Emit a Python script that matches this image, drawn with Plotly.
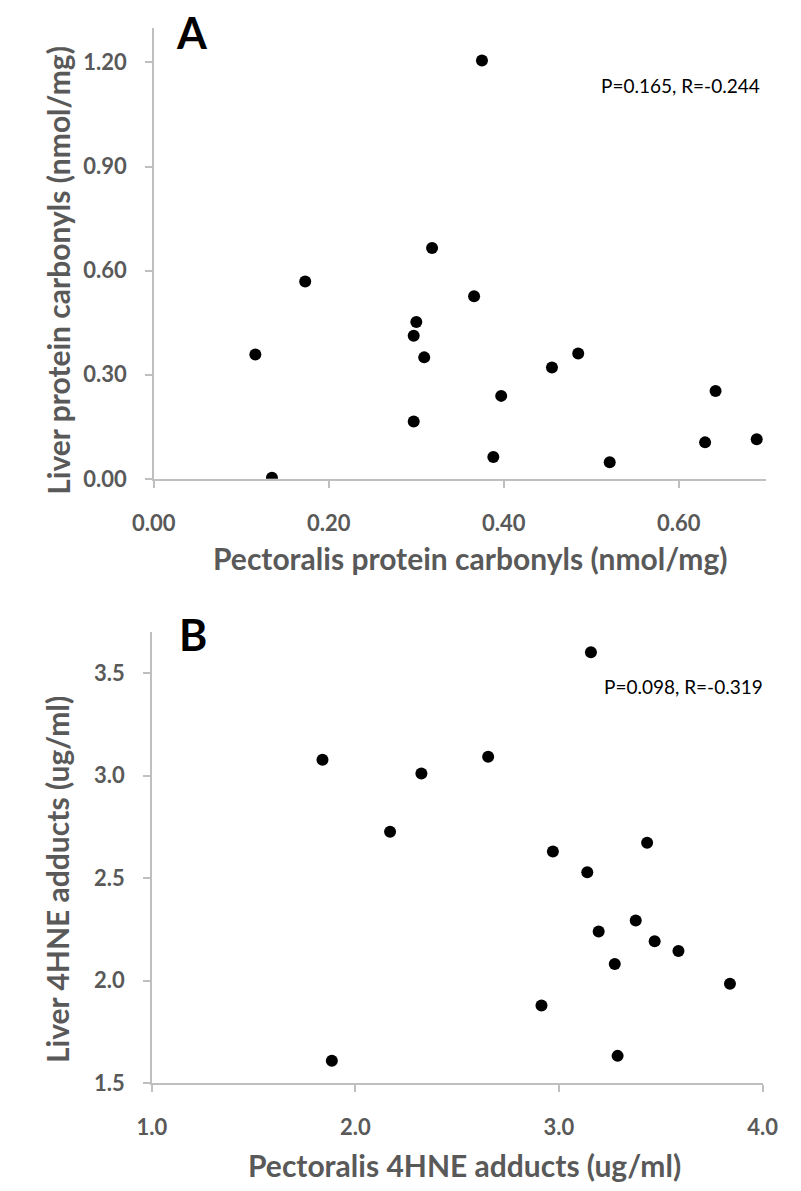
import plotly.graph_objects as go

W, H = 801, 1191

# Panel A data: pectoralis vs liver protein carbonyls (nmol/mg)
a_pect = [0.173, 0.375, 0.318, 0.366, 0.116, 0.135, 0.300, 0.297, 0.309,
          0.455, 0.485, 0.397, 0.297, 0.388, 0.521, 0.642, 0.630, 0.689]
a_liver = [0.569, 1.206, 0.665, 0.526, 0.358, 0.003, 0.452, 0.412, 0.350,
           0.321, 0.361, 0.239, 0.165, 0.063, 0.048, 0.253, 0.105, 0.114]

# Panel B data: pectoralis vs liver 4HNE adducts (ug/ml)
b_pect = [1.838, 2.170, 3.157, 2.652, 2.324, 2.970, 3.433, 3.139, 1.884,
          3.195, 3.377, 3.470, 3.587, 3.274, 3.840, 2.914, 3.288]
b_liver = [3.077, 2.726, 3.602, 3.092, 3.010, 2.630, 2.673, 2.529, 1.609,
           2.240, 2.293, 2.192, 2.144, 2.081, 1.985, 1.879, 1.633]

a_stats = "P=0.165, R=-0.244"
b_stats = "P=0.098, R=-0.319"
a_xtitle = "Pectoralis protein carbonyls (nmol/mg)"
a_ytitle = "Liver protein carbonyls (nmol/mg)"
b_xtitle = "Pectoralis 4HNE adducts (ug/ml)"
b_ytitle = "Liver 4HNE adducts (ug/ml)"

FONT = "Lato"
GRAY = "#595959"
AXC = "#bfbfbf"

def px(x):
    return x / W

def py(y):
    return 1 - y / H

fig = go.Figure()
fig.add_trace(go.Scatter(x=a_pect, y=a_liver, mode="markers", xaxis="x", yaxis="y",
                         marker=dict(color="black", size=12), showlegend=False))
fig.add_trace(go.Scatter(x=b_pect, y=b_liver, mode="markers", xaxis="x2", yaxis="y2",
                         marker=dict(color="black", size=12), showlegend=False))

tickfont = dict(family=FONT, size=22, color=GRAY, weight="bold")
common = dict(showline=True, linecolor=AXC, linewidth=1.5, showgrid=False, zeroline=False,
              ticks="outside", ticklen=7, tickcolor=AXC, tickwidth=1.5, tickfont=tickfont)

fig.update_layout(
    width=W, height=H, margin=dict(l=0, r=0, t=0, b=0),
    paper_bgcolor="white", plot_bgcolor="white",
    xaxis=dict(domain=[px(130), px(773)], range=[0, 0.70], dtick=0.2, tick0=0,
               tickformat=".2f", anchor="y", ticklabelstandoff=17, **common),
    yaxis=dict(domain=[py(476), py(20)], range=[0, 1.30], dtick=0.3, tick0=0,
               tickformat=".2f", anchor="x", ticklabelstandoff=14, **common),
    xaxis2=dict(domain=[px(128), px(769)], range=[1, 4], dtick=1, tick0=1,
                tickformat=".1f", anchor="y2", ticklabelstandoff=17, **common),
    yaxis2=dict(domain=[py(1087), py(631)], range=[1.5, 3.7], dtick=0.5, tick0=1.5,
                tickformat=".1f", anchor="x2", ticklabelstandoff=14, **common),
)

titlefont = dict(family=FONT, size=30, color=GRAY, weight="bold")
ann = []
ann.append(dict(text=a_xtitle, x=px(462), y=py(556), xref="paper", yref="paper",
                showarrow=False, font=titlefont, xanchor="center", yanchor="middle"))
ann.append(dict(text=a_ytitle, x=px(29), y=py(265), xref="paper", yref="paper", textangle=-90,
                showarrow=False, font=titlefont, xanchor="center", yanchor="middle"))
ann.append(dict(text=b_xtitle, x=px(456), y=py(1170), xref="paper", yref="paper",
                showarrow=False, font=titlefont, xanchor="center", yanchor="middle"))
ann.append(dict(text=b_ytitle, x=px(29), y=py(881), xref="paper", yref="paper", textangle=-90,
                showarrow=False, font=titlefont, xanchor="center", yanchor="middle"))
labfont = dict(family=FONT, size=43, color="black", weight="bold")
ann.append(dict(text="A", x=px(151), y=py(25), xref="paper", yref="paper",
                showarrow=False, font=labfont, xanchor="left", yanchor="middle"))
ann.append(dict(text="B", x=px(154), y=py(633), xref="paper", yref="paper",
                showarrow=False, font=labfont, xanchor="left", yanchor="middle"))
statfont = dict(family=FONT, size=19, color="black")
ann.append(dict(text=a_stats, x=px(597), y=py(78), xref="paper", yref="paper",
                showarrow=False, font=statfont, xanchor="left", yanchor="middle"))
ann.append(dict(text=b_stats, x=px(600), y=py(686), xref="paper", yref="paper",
                showarrow=False, font=statfont, xanchor="left", yanchor="middle"))
fig.update_layout(annotations=ann)

fig.write_html("out.html")
